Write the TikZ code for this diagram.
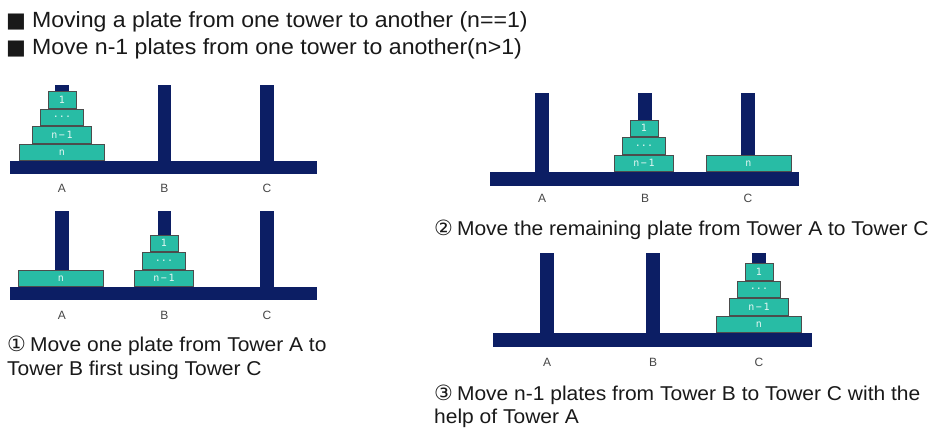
\documentclass[tikz,border=0pt]{standalone}
\usepackage{fontspec}
\setmainfont{Liberation Sans}
\newfontfamily\capf[FakeStretch=1.05]{Liberation Sans}
\newfontfamily\symf{DejaVu Sans}
\newfontfamily\monof{DejaVu Sans Mono}
\definecolor{navy}{RGB}{12,30,100}
\definecolor{platec}{RGB}{40,188,165}
\definecolor{lblc}{RGB}{70,70,70}
\tikzset{
  basebar/.style={fill=navy},
  plate/.style={draw=black!70, line width=0.7pt, fill=platec, text=white!88!platec,
    font=\monof\fontsize{10}{10}\selectfont, inner sep=0pt, anchor=south,
    minimum height=16.8pt},
  pn/.style={plate, minimum width=85pt},
  pnm/.style={plate, minimum width=59pt},
  pdots/.style={plate, minimum width=43pt},
  pone/.style={plate, minimum width=28pt},
  towlbl/.style={text=lblc, font=\fontsize{12}{12}\selectfont, inner sep=0pt},
  captxt/.style={font=\capf\fontsize{20}{24}\selectfont, anchor=base west, inner sep=0pt, text=black!90},
  titletxt/.style={font=\capf\fontsize{22}{24}\selectfont, anchor=base west, inner sep=0pt, text=black!90},
}
\newcommand{\blt}{{\symf\fontsize{21}{21}\selectfont ■}\hspace{6pt}}
\newcommand{\circd}[1]{{\symf\fontsize{21}{21}\selectfont #1}\hspace{4pt}}
\begin{document}
\begin{tikzpicture}[x=1pt,y=-1pt]
\useasboundingbox (0,0) rectangle (929,428);
% title
\node[titletxt] (t1) at (6,28) {\blt Moving a plate from one tower to another (n==1)};
\node[titletxt] (t2) at (6,55) {\blt Move n-1 plates from one tower to another(n>1)};

% ---------- scene 1 ----------
\fill[basebar] (10,161) rectangle (317,174);
\fill[basebar] (55,85) rectangle (69,161);
\fill[basebar] (158,85) rectangle (171,161);
\fill[basebar] (260,85) rectangle (274,161);
\node[pn]    (s1n)  at (62,161) {n};
\node[pnm]   (s1m)  at (s1n.north) {n\,\textminus\,1};
\node[pdots] (s1d)  at (s1m.north) {...};
\node[pone]  (s1o)  at (s1d.north) {1};
\node[towlbl] (s1A) at (62,188) {A};
\node[towlbl] (s1B) at (164.5,188) {B};
\node[towlbl] (s1C) at (267,188) {C};

% ---------- scene 2 ----------
\fill[basebar] (10,287) rectangle (317,300);
\fill[basebar] (55,211) rectangle (69,287);
\fill[basebar] (158,211) rectangle (171,287);
\fill[basebar] (260,211) rectangle (274,287);
\node[pn]    (s2n)  at (61,287) {n};
\node[pnm]   (s2m)  at (164,287) {n\,\textminus\,1};
\node[pdots] (s2d)  at (s2m.north) {...};
\node[pone]  (s2o)  at (s2d.north) {1};
\node[towlbl] (s2A) at (62,315) {A};
\node[towlbl] (s2B) at (164.5,315) {B};
\node[towlbl] (s2C) at (267,315) {C};
\node[captxt] (c1a) at (7,351) {\circd{①}Move one plate from Tower A to};
\node[captxt] (c1b) at (7,375) {Tower B first using Tower C};

% ---------- scene 3 ----------
\fill[basebar] (490,172) rectangle (799,186);
\fill[basebar] (535,93) rectangle (549,172);
\fill[basebar] (638,93) rectangle (652,172);
\fill[basebar] (741,93) rectangle (755,172);
\node[pn]    (s3n)  at (748.5,172) {n};
\node[pnm]   (s3m)  at (644,172) {n\,\textminus\,1};
\node[pdots] (s3d)  at (s3m.north) {...};
\node[pone]  (s3o)  at (s3d.north) {1};
\node[towlbl] (s3A) at (542,198) {A};
\node[towlbl] (s3B) at (645,198) {B};
\node[towlbl] (s3C) at (748,198) {C};
\node[captxt] (c2) at (434,235) {\circd{②}Move the remaining plate from Tower A to Tower C};

% ---------- scene 4 ----------
\fill[basebar] (493,333) rectangle (812,347);
\fill[basebar] (540,253) rectangle (554,333);
\fill[basebar] (646,253) rectangle (660,333);
\fill[basebar] (752,253) rectangle (766,333);
\node[pn]    (s4n)  at (759,333) {n};
\node[pnm]   (s4m)  at (s4n.north) {n\,\textminus\,1};
\node[pdots] (s4d)  at (s4m.north) {...};
\node[pone]  (s4o)  at (s4d.north) {1};
\node[towlbl] (s4A) at (547,362) {A};
\node[towlbl] (s4B) at (653,362) {B};
\node[towlbl] (s4C) at (759,362) {C};
\node[captxt] (c3a) at (434,400) {\circd{③}Move n-1 plates from Tower B to Tower C with the};
\node[captxt] (c3b) at (434,423) {help of Tower A};
\end{tikzpicture}
\end{document}
